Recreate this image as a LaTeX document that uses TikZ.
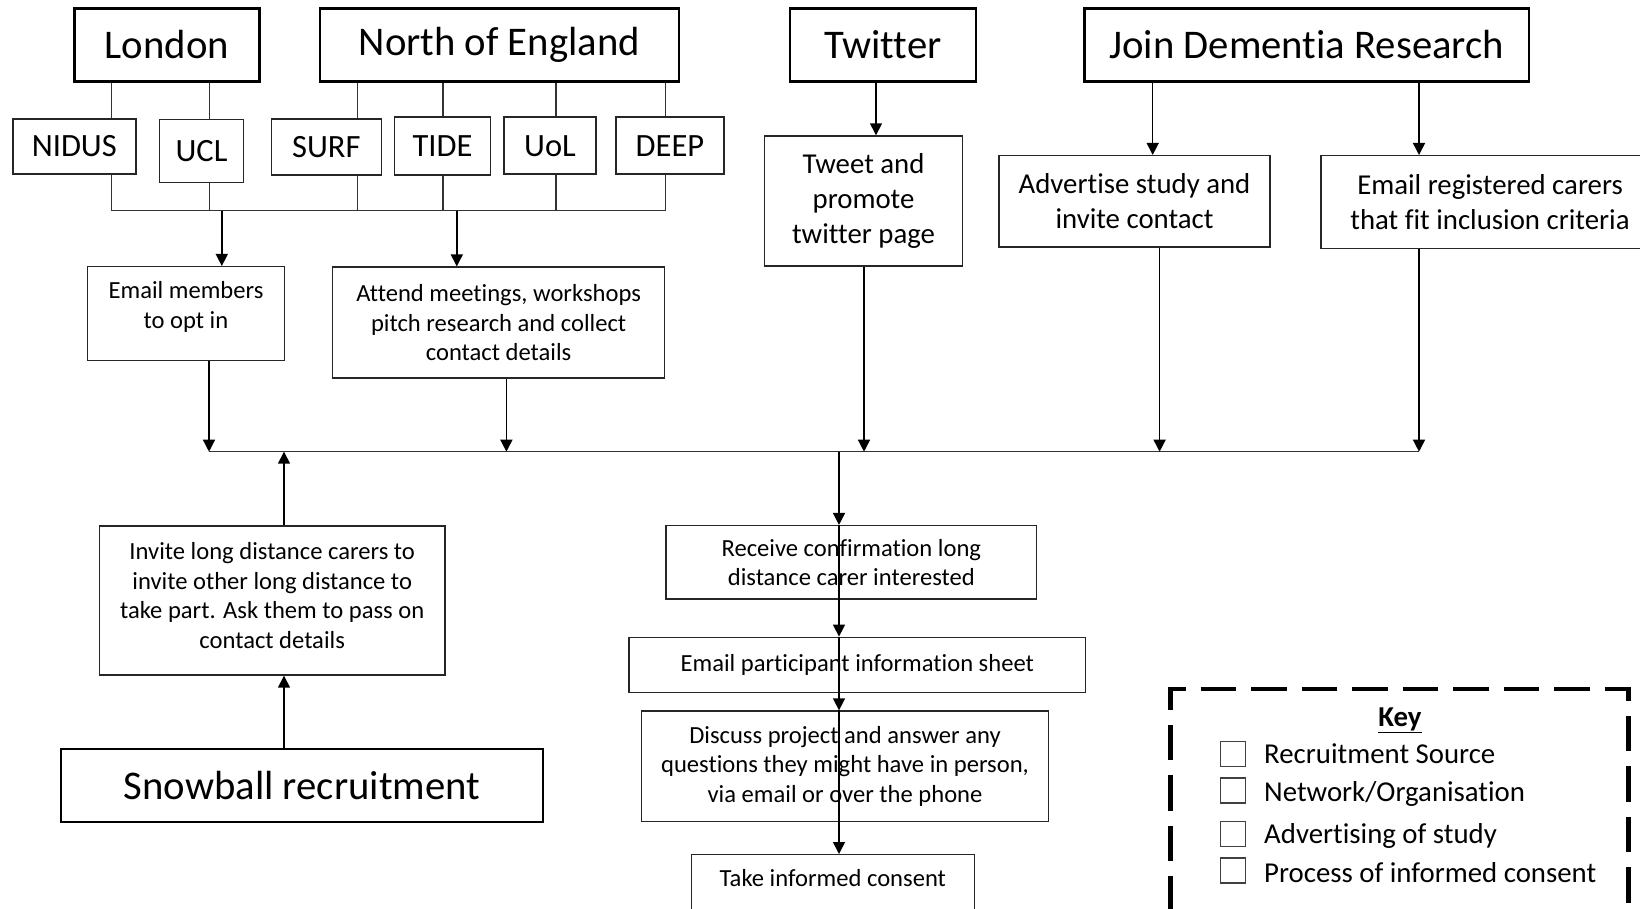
\documentclass[tikz,border=0pt]{standalone}
\usepackage{fontspec}
\setmainfont{Carlito}[Ligatures=CommonOff]
\usetikzlibrary{arrows.meta}

\begin{document}
\begin{tikzpicture}[x=1pt,y=-1pt,
		srcbox/.style={draw=black,line width=2.2pt,inner sep=0pt,align=center,font=\fontsize{40.7}{48}\selectfont},
		orgbox/.style={draw=black!85,line width=1.4pt,inner sep=0pt,align=center,font=\fontsize{32.5}{39}\selectfont},
		advbox/.style={draw=black!85,line width=1.4pt,inner sep=0pt,align=center,font=\fontsize{28.8}{35}\selectfont},
		actbox/.style={draw=black!85,line width=1.4pt,inner sep=0pt,align=center,font=\fontsize{24.6}{29.5}\selectfont},
		keysq/.style={draw=black!75,line width=1.2pt,inner sep=0pt,minimum size=25pt},
		link/.style={draw=black!80,line width=1.3pt},
		flow/.style={draw=black,line width=1.5pt,-{Triangle[width=12pt,length=12pt]}}]
		\useasboundingbox (0,0) rectangle (1640,909);
		\clip (0,0) rectangle (1640,909); % page edge cuts the last boxes

		\coordinate (orgbus)  at (0,210.7);
		\coordinate (mainbus) at (0,451.7);
		\foreach \l/\x in {lLo/221.8, lNo/456.8, lTw/876, lAd/1152.7, lRg/1419,
			lMe/209, lMt/506.4, lTd/864, lAv/1159.6, lSb/284, lCo/839}{%
			\coordinate (\l) at (\x,0);
		}

		% recruitment sources
		\node[srcbox,minimum width=185pt,minimum height=73pt] (London) at (166.9,45) {London};
		\node[srcbox,minimum width=359pt,minimum height=73pt] (North) at (499.4,45) {North of England};
		\node[srcbox,minimum width=186pt,minimum height=73pt] (Twitter) at (882.8,45) {Twitter};
		\node[srcbox,minimum width=444.5pt,minimum height=73pt] (JDR) at (1306.8,45) {Join Dementia Research};

		% networks / organisations
		\foreach \n/\x/\y/\w/\h in {NIDUS/74.3/146.4/123/55, UCL/201.5/151.3/84/63,
			SURF/326.3/147/110/56, TIDE/442.6/146.2/96/58, UoL/550/145.7/92/57, DEEP/670/145.7/108/57}{%
			\node[orgbox,minimum width=\w pt,minimum height=\h pt] (\n) at (\x,\y) {\n};
		}
		\foreach \n/\p/\x in {NIDUS/London/111.5, UCL/London/209.5, SURF/North/357.5,
			TIDE/North/443, UoL/North/556, DEEP/North/665.4}{%
			\coordinate (p\n) at (\x,0);
			\draw[link] (\p.south -| p\n) -- (\n.north -| p\n);
			\draw[link] (\n.south -| p\n) -- (orgbus -| p\n);
		}
		\draw[link] (orgbus -| pNIDUS) -- (orgbus -| pDEEP);

		% advertising of study
		\node[actbox,minimum width=197pt,minimum height=94pt] (Members) at (186,313.7) {Email members\\to opt in\rule[-17pt]{0pt}{0pt}};
		\node[actbox,minimum width=332pt,minimum height=111pt] (Meetings) at (498.6,322.6) {Attend meetings, workshops\\pitch research and collect\\contact details};
		\node[advbox,minimum width=198pt,minimum height=130pt] (Tweet) at (863.5,201) {Tweet and\\promote\\twitter page};
		\node[advbox,minimum width=271pt,minimum height=91.5pt] (Advertise) at (1134.5,201.4) {Advertise study and\\invite contact};
		\node[advbox,minimum width=338pt,minimum height=92.6pt] (Registered) at (1490,202) {Email registered carers\\that fit inclusion criteria};

		\draw[flow] (orgbus -| lLo) -- (Members.north -| lLo);
		\draw[flow] (orgbus -| lNo) -- (Meetings.north -| lNo);
		\draw[flow] (Twitter.south -| lTw) -- (Tweet.north -| lTw);
		\draw[flow] (JDR.south -| lAd) -- (Advertise.north -| lAd);
		\draw[flow] (JDR.south -| lRg) -- (Registered.north -| lRg);

		\draw[link] (mainbus -| lMe) -- (mainbus -| lRg);
		\foreach \n/\l in {Members/lMe, Meetings/lMt, Tweet/lTd, Advertise/lAv, Registered/lRg}{%
			\draw[flow] (\n.south -| \l) -- (mainbus -| \l);
		}

		% snowball
		\node[actbox,minimum width=345.7pt,minimum height=149pt] (Invite) at (272.2,600.5) {Invite long distance carers to\\invite other long distance to\\take part. Ask them to pass on\\contact details\rule[-10.5pt]{0pt}{0pt}};
		\node[srcbox,line width=1.8pt,minimum width=481.4pt,minimum height=73pt] (Snowball) at (302,785.8) {Snowball recruitment};
		\draw[flow] (Snowball.north -| lSb) -- (Invite.south -| lSb);
		\draw[flow] (Invite.north -| lSb) -- (mainbus -| lSb);

		% process of informed consent
		\node[actbox,minimum width=370.7pt,minimum height=73.3pt] (Receive) at (851.3,562.3) {Receive confirmation long\\distance carer interested};
		\node[actbox,minimum width=456.7pt,minimum height=55pt] (Sheet) at (857.3,664.8) {Email participant information sheet};
		\node[actbox,minimum width=407.4pt,minimum height=110.3pt] (Discuss) at (845,766.2) {Discuss project and answer any\\questions they might have in person,\\via email or over the phone};
		\node[actbox,anchor=north,minimum width=283pt,text height=32pt,text depth=80pt] (Consent) at (832.8,854) {Take informed consent};
		\draw[flow] (mainbus -| lCo) -- (Receive.north -| lCo);
		\foreach \a/\b in {Receive/Sheet, Sheet/Discuss, Discuss/Consent}{%
			\draw[flow] (\a.north -| lCo) -- (\b.north -| lCo);
		}

		% key
		\draw[line width=4.5pt,dash pattern=on 35.5pt off 15pt,dash phase=2pt]
			(1170.7,960) -- (1170.7,689) -- (1628.7,689) -- (1628.7,960);
		\node[font=\fontsize{28.8}{35}\selectfont\bfseries,anchor=base] (Key) at (1400,726) {\underline{Key}};
		\foreach \y/\b/\t [count=\i] in {754.2/763/Recruitment Source, 790.5/801.5/{Network/Organisation},
			834.2/843/Advertising of study, 870.5/882.5/Process of informed consent}{%
			\node[keysq] (sq\i) at (1232.6,\y) {};
			\node[font=\fontsize{28.8}{35}\selectfont,anchor=base west,inner sep=0pt] (kt\i) at (1264,\b) {\t};
		}
	  \end{tikzpicture}
\end{document}
